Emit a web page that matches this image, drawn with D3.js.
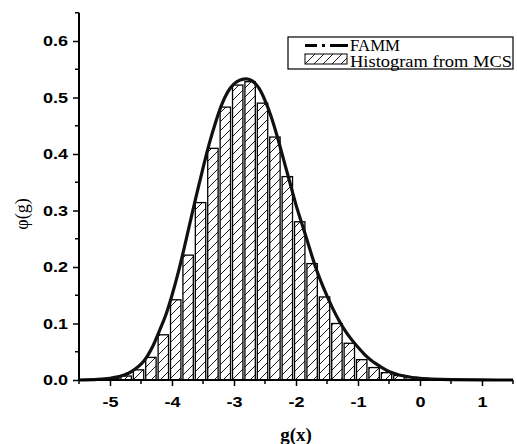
<!DOCTYPE html>
<html>
<head>
<meta charset="utf-8">
<script src="https://cdn.jsdelivr.net/npm/d3@7"></script>
<style>
  body { margin: 0; background: #fff; }
  svg { display: block; }
</style>
</head>
<body>
<div id="chart"></div>
<script>
// FAMM curve
const curveG = [-5.5, -5.2, -5.0, -4.9, -4.8, -4.7, -4.6, -4.5, -4.4, -4.3, -4.2, -4.1, -4.0,
  -3.9, -3.8, -3.7, -3.6, -3.5, -3.4, -3.3, -3.2, -3.1, -3.0, -2.9, -2.8, -2.7, -2.6, -2.5,
  -2.4, -2.3, -2.2, -2.1, -2.0, -1.9, -1.8, -1.7, -1.6, -1.5, -1.4, -1.3, -1.2, -1.1, -1.0,
  -0.9, -0.8, -0.7, -0.6, -0.5, -0.4, -0.3, -0.2, -0.1, 0.0, 0.2, 0.5, 1.0, 1.5];
const curvePhi = [0, 0.001, 0.003, 0.005, 0.008, 0.012, 0.019, 0.028, 0.042, 0.062, 0.088, 0.115, 0.150,
  0.190, 0.235, 0.283, 0.330, 0.375, 0.418, 0.455, 0.487, 0.510, 0.524, 0.531, 0.533, 0.529, 0.517, 0.495,
  0.466, 0.430, 0.390, 0.350, 0.310, 0.275, 0.240, 0.205, 0.175, 0.149, 0.125, 0.104, 0.086, 0.071, 0.058,
  0.046, 0.036, 0.028, 0.021, 0.015, 0.011, 0.008, 0.006, 0.004, 0.003, 0.0015, 0.0005, 0.0001, 0];

// histogram from MCS (left bin edges, bin width 0.2)
const binLeft = [-5.24, -5.04, -4.84, -4.64, -4.44, -4.24, -4.04, -3.84, -3.64, -3.44, -3.24, -3.04, -2.84,
  -2.64, -2.44, -2.24, -2.04, -1.84, -1.64, -1.44, -1.24, -1.04, -0.84, -0.64, -0.44, -0.24, -0.04, 0.16];
const binHeight = [0.001, 0.003, 0.007, 0.018, 0.040, 0.080, 0.142, 0.221, 0.314, 0.410, 0.483, 0.522, 0.528,
  0.490, 0.430, 0.360, 0.280, 0.206, 0.147, 0.100, 0.065, 0.036, 0.022, 0.013, 0.008, 0.005, 0.003, 0.001];
const binWidth = 0.2;

const xTicks = [-5, -4, -3, -2, -1, 0, 1];
const xMinor = [-5.5, -4.5, -3.5, -2.5, -1.5, -0.5, 0.5, 1.5];
const yTicks = [0.0, 0.1, 0.2, 0.3, 0.4, 0.5, 0.6];
const yMinor = [0.05, 0.15, 0.25, 0.35, 0.45, 0.55, 0.65];

const width = 517, height = 444;
const x = d3.scaleLinear().domain([-5.5, 1.5]).range([79, 513]);
const y = d3.scaleLinear().domain([0, 0.65]).range([380, 12.75]);

const svg = d3.select('#chart').append('svg')
  .attr('width', width)
  .attr('height', height);

svg.append('rect').attr('width', width).attr('height', height).attr('fill', '#fff');

// hatch pattern
const defs = svg.append('defs');
const pat = defs.append('pattern')
  .attr('id', 'hatch')
  .attr('patternUnits', 'userSpaceOnUse')
  .attr('width', 9).attr('height', 9);
pat.append('path')
  .attr('d', 'M0,9 L9,0 M-2,2 L2,-2 M7,11 L11,7')
  .attr('stroke', '#000')
  .attr('stroke-width', 0.9);

// bars
svg.append('g').selectAll('rect')
  .data(binLeft.map((g, i) => ({ g, h: binHeight[i] })))
  .join('rect')
  .attr('x', d => x(d.g) + 1)
  .attr('width', d => x(d.g + binWidth) - x(d.g) - 2)
  .attr('y', d => y(d.h))
  .attr('height', d => y(0) - y(d.h))
  .attr('fill', 'url(#hatch)')
  .attr('stroke', '#000')
  .attr('stroke-width', 1.3);

// FAMM curve
const line = d3.line()
  .x(d => x(d[0]))
  .y(d => y(d[1]))
  .curve(d3.curveMonotoneX);
svg.append('path')
  .datum(curveG.map((g, i) => [g, curvePhi[i]]))
  .attr('d', line)
  .attr('fill', 'none')
  .attr('stroke', '#111')
  .attr('stroke-width', 3.2);

// stretch tick labels a bit wider, like the original
function widen(sel, k) {
  sel.each(function() {
    const w = this.getComputedTextLength();
    d3.select(this).attr('textLength', w * k).attr('lengthAdjust', 'spacingAndGlyphs');
  });
}

// x axis
const xAxis = svg.append('g').attr('transform', `translate(0,${y(0)})`);
xAxis.call(d3.axisBottom(x).tickValues(xTicks).tickSize(6).tickPadding(10)
  .tickFormat(d => d < 0 ? '-' + Math.abs(d) : d));
xAxis.append('g').selectAll('line').data(xMinor).join('line')
  .attr('x1', d => x(d)).attr('x2', d => x(d))
  .attr('y1', 0).attr('y2', 4)
  .attr('stroke', '#000').attr('stroke-width', 1.5);

// y axis
const yAxis = svg.append('g').attr('transform', `translate(${x(-5.5)},0)`);
yAxis.call(d3.axisLeft(y).tickValues(yTicks).tickSize(6).tickPadding(5).tickFormat(d3.format('.1f')));
yAxis.append('g').selectAll('line').data(yMinor).join('line')
  .attr('x1', 0).attr('x2', -4)
  .attr('y1', d => y(d)).attr('y2', d => y(d))
  .attr('stroke', '#000').attr('stroke-width', 1.5);

[xAxis, yAxis].forEach(a => {
  a.select('.domain').remove();
  a.selectAll('.tick line').attr('stroke-width', 1.5);
  a.selectAll('.tick text')
    .attr('font-family', '"Liberation Sans", Arial, sans-serif')
    .attr('font-weight', 'bold')
    .attr('font-size', 15)
    .attr('fill', '#000');
});
svg.append('line').attr('x1', x(-5.5)).attr('x2', x(1.5)).attr('y1', y(0)).attr('y2', y(0))
  .attr('stroke', '#000').attr('stroke-width', 2);
svg.append('line').attr('x1', x(-5.5)).attr('x2', x(-5.5)).attr('y1', y(0) + 1).attr('y2', y(0.65))
  .attr('stroke', '#000').attr('stroke-width', 2);

widen(xAxis.selectAll('.tick text'), 1.2);
widen(yAxis.selectAll('.tick text'), 1.2);

// axis titles
svg.append('text')
  .attr('x', 296).attr('y', 441)
  .attr('text-anchor', 'middle')
  .attr('font-family', '"Liberation Serif", "Times New Roman", serif')
  .attr('font-weight', 'bold')
  .attr('font-size', 19)
  .text('g(x)');

svg.append('text')
  .attr('transform', 'translate(28,214) rotate(-90)')
  .attr('text-anchor', 'middle')
  .attr('font-family', '"Liberation Serif", "Times New Roman", serif')
  .attr('font-size', 18)
  .text('φ(g)');

// legend
const lg = svg.append('g');
lg.append('rect')
  .attr('x', 288).attr('y', 37).attr('width', 225).attr('height', 32)
  .attr('fill', '#fff').attr('stroke', '#000').attr('stroke-width', 1.2);
lg.append('line')
  .attr('x1', 305).attr('x2', 348).attr('y1', 45.5).attr('y2', 45.5)
  .attr('stroke', '#000').attr('stroke-width', 3)
  .attr('stroke-dasharray', '12,5,3,5,18');
lg.append('rect')
  .attr('x', 305).attr('y', 54).attr('width', 42).attr('height', 10)
  .attr('fill', 'url(#hatch)').attr('stroke', '#000').attr('stroke-width', 1);
const legText = [['FAMM', 50, 350, 51], ['Histogram from MCS', 162, 350, 67]];
legText.forEach(([t, w, tx, ty]) => {
  lg.append('text')
    .attr('x', tx).attr('y', ty)
    .attr('font-family', '"Liberation Serif", "Times New Roman", serif')
    .attr('font-size', 16)
    .attr('textLength', w)
    .attr('lengthAdjust', 'spacingAndGlyphs')
    .text(t);
});
</script>
</body>
</html>
